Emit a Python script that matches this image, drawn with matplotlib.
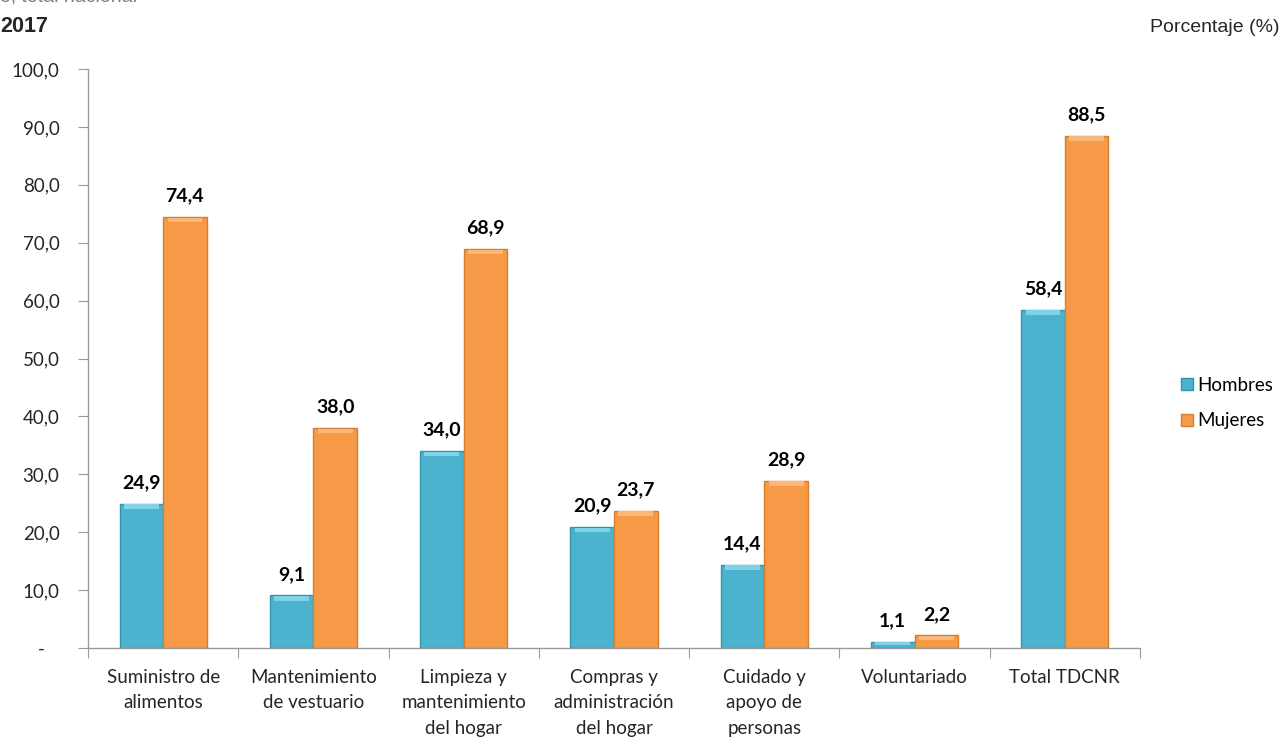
import matplotlib
matplotlib.use("Agg")
import matplotlib.pyplot as plt
import numpy as np
from matplotlib.patches import Patch

categories = ["Suministro de\nalimentos", "Mantenimiento\nde vestuario", "Limpieza y\nmantenimiento\ndel hogar",
              "Compras y\nadministración\ndel hogar", "Cuidado y\napoyo de\npersonas", "Voluntariado", "Total TDCNR"]
hombres = [24.9, 9.1, 34.0, 20.9, 14.4, 1.1, 58.4]
mujeres = [74.4, 38.0, 68.9, 23.7, 28.9, 2.2, 88.5]
yticks = [0, 10, 20, 30, 40, 50, 60, 70, 80, 90, 100]

c_h = "#4BB3CE"
c_m = "#F79A48"
e_h = "#3494AE"
e_m = "#D67D30"
txt = "#262626"
FONT = ["Lato", "DejaVu Sans"]

fig = plt.figure(figsize=(12.83, 7.43), dpi=100)
ax = fig.add_axes([88/1283, 1-648/743, (1140-88)/1283, (648-69)/743])

x = np.arange(len(categories))
w = 0.29
bh = ax.bar(x - w/2, hombres, w, color=c_h, edgecolor=e_h, linewidth=1.0, label="Hombres", zorder=2)
bm = ax.bar(x + w/2, mujeres, w, color=c_m, edgecolor=e_m, linewidth=1.0, label="Mujeres", zorder=2)

# light top bevel strip
for bars, col in ((bh, "#7FD3E8"), (bm, "#FBB878")):
    for b in bars:
        h = b.get_height()
        s = min(0.8, h * 0.5)
        ax.bar(b.get_x() + b.get_width()/2, s, b.get_width()*0.8, bottom=h - s - 0.1, color=col, linewidth=0, zorder=3)

for i in range(len(categories)):
    ax.annotate(f"{hombres[i]:.1f}".replace(".", ","), (x[i] - w/2, hombres[i]), xytext=(0, 9),
                textcoords="offset points", ha="center", va="bottom", fontsize=14, fontweight="bold",
                color="black", family=FONT)
    ax.annotate(f"{mujeres[i]:.1f}".replace(".", ","), (x[i] + w/2, mujeres[i]), xytext=(0, 9),
                textcoords="offset points", ha="center", va="bottom", fontsize=14, fontweight="bold",
                color="black", family=FONT)

ax.set_xlim(-0.5, len(categories) - 0.5)
ax.set_ylim(0, 100)
ax.set_yticks(yticks)
ax.set_yticklabels(["-   " if v == 0 else f"{v:.1f}".replace(".", ",") for v in yticks],
                   fontsize=13.5, color=txt, family=FONT)
ax.set_xticks(np.arange(-0.5, len(categories), 1.0))
ax.set_xticklabels([])
ax.set_xticks(x, minor=True)
ax.set_xticklabels(categories, minor=True, fontsize=13.5, color=txt, family=FONT, linespacing=1.6)
ax.tick_params(axis="x", which="minor", length=0, pad=15)
ax.tick_params(axis="x", which="major", length=7, color="#9A9A9A", direction="out")
ax.tick_params(axis="y", length=7, color="#9A9A9A", direction="out", pad=13.5)
for sp in ("top", "right"):
    ax.spines[sp].set_visible(False)
for sp in ("left", "bottom"):
    ax.spines[sp].set_color("#9A9A9A")
    ax.spines[sp].set_linewidth(1.0)

fig.text(0.0, 1 - 27/743, "2017", fontsize=15.5, fontweight="bold", family=["Liberation Sans", "DejaVu Sans"],
         color=txt, ha="left", va="center")
fig.text(0.0, 1 + 3/743, "o, total nacional", fontsize=14, family=["Liberation Sans", "DejaVu Sans"],
         color="#7F7F7F", ha="left", va="center")
fig.text(1280/1283, 1 - 27/743, "Porcentaje (%)", fontsize=14, family=["Liberation Sans", "DejaVu Sans"],
         color=txt, ha="right", va="center")

handles = [Patch(facecolor=c_h, edgecolor=e_h), Patch(facecolor=c_m, edgecolor=e_m)]
fig.legend(handles, ["Hombres", "Mujeres"], loc="center left", bbox_to_anchor=(1172/1283, 1 - 403/743),
           frameon=False, prop={"family": FONT, "size": 13.5}, handlelength=0.6,
           handleheight=0.6, handletextpad=0.25, labelspacing=1.0, borderpad=0)

fig.savefig("out.png", dpi=100)
